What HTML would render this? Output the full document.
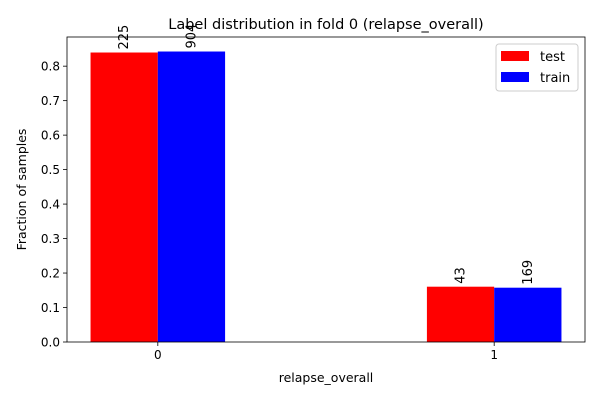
<!DOCTYPE html>
<html><head><meta charset="utf-8"><style>
body{margin:0;background:#fff;}
svg text{font-family:"DejaVu Sans","Liberation Sans",sans-serif;fill:#000;}
</style></head><body>
<svg id="chart" width="600" height="400" viewBox="0 0 600 400" xmlns="http://www.w3.org/2000/svg">
<rect width="600" height="400" fill="#fff"/>
<g id="plot"></g>
</svg>
<script>
const categories = ["0", "1"];
const testValues = [0.8396, 0.1604];
const trainValues = [0.8425, 0.1575];
const testCounts = ["225", "43"];
const trainCounts = ["904", "169"];
const yTicks = [0.0, 0.1, 0.2, 0.3, 0.4, 0.5, 0.6, 0.7, 0.8];

const L = 67, R = 585, T = 37, B = 342;
const xMin = -0.27, xMax = 1.27, yMax = 0.8846;
const x = v => L + (v - xMin) / (xMax - xMin) * (R - L);
const y = v => B - v / yMax * (B - T);
const NS = "http://www.w3.org/2000/svg";
const g = document.getElementById("plot");
function mk(tag, attrs, text) {
  const e = document.createElementNS(NS, tag);
  for (const k in attrs) e.setAttribute(k, attrs[k]);
  if (text !== undefined) e.textContent = text;
  g.appendChild(e);
  return e;
}
const bw = 0.2;
categories.forEach((c, i) => {
  const series = [[testValues[i], testCounts[i], "#ff0000", -bw, "test"], [trainValues[i], trainCounts[i], "#0000ff", 0, "train"]];
  series.forEach(([v, cnt, col, off, nm]) => {
    const x0 = x(i + off), x1 = x(i + off + bw);
    const r = mk("rect", {x: x0, y: y(v), width: x1 - x0, height: B - y(v), fill: col});
    
    
    const cx = (x0 + x1) / 2 + 4, ty = y(v) - 3;
    const t = mk("text", {x: cx, y: ty, "font-size": 13, transform: `rotate(-90 ${cx} ${ty})`}, cnt);
    
    
  });
  const tx = x(i);
  const tk = mk("line", {x1: tx, x2: tx, y1: B, y2: B + 4, stroke: "#000", "stroke-width": 0.8});
  
  
  const tl = mk("text", {x: tx, y: B + 17, "font-size": 12, "text-anchor": "middle"}, c);
  
  
});
yTicks.forEach(v => {
  const yy = y(v);
  const tk = mk("line", {x1: L - 4, x2: L, y1: yy, y2: yy, stroke: "#000", "stroke-width": 0.8});
  
  
  const tl = mk("text", {x: L - 7, y: yy + 4.5, "font-size": 12, "text-anchor": "end"}, v.toFixed(1));
  
  
});
const frame = mk("rect", {x: L, y: T, width: R - L, height: B - T, fill: "none", stroke: "#000", "stroke-width": 0.8});


const title = mk("text", {x: (L + R) / 2, y: 29, "font-size": 14.5, "text-anchor": "middle"}, "Label distribution in fold 0 (relapse_overall)");


const xt = mk("text", {x: (L + R) / 2, y: 382, "font-size": 12.5, "text-anchor": "middle"}, "relapse_overall");


const yt = mk("text", {x: 26, y: (T + B) / 2, "font-size": 12.5, "text-anchor": "middle", transform: `rotate(-90 26 ${(T + B) / 2})`}, "Fraction of samples");


const lg = mk("rect", {x: 496, y: 44, width: 82, height: 47, rx: 3, fill: "#fff", "fill-opacity": 0.8, stroke: "#ccc", "stroke-width": 1});


[["test", "#ff0000", 51], ["train", "#0000ff", 72]].forEach(([n, col, yy]) => {
  const p = mk("rect", {x: 501, y: yy, width: 28, height: 10, fill: col});
  
  
  const t = mk("text", {x: 540, y: yy + 10, "font-size": 13}, n);
  
  
});
</script>
</body></html>
